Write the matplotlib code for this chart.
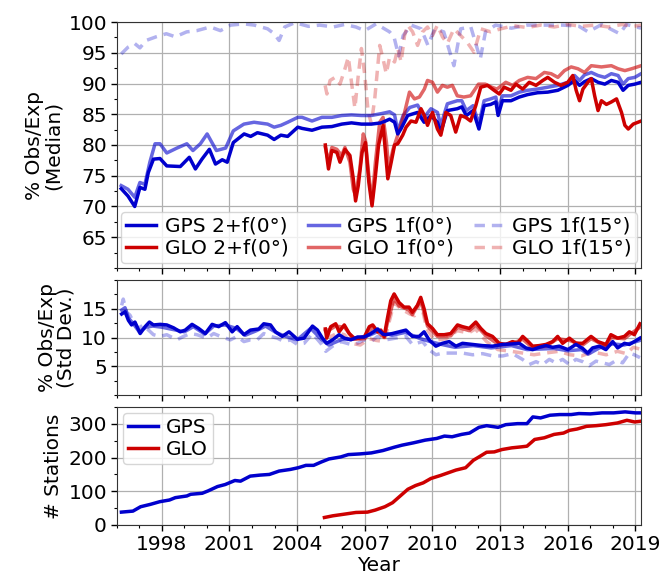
import matplotlib
matplotlib.use("Agg")
import matplotlib.pyplot as plt
from matplotlib.ticker import MultipleLocator
from matplotlib.lines import Line2D

# ---------------- data: median % obs/exp ----------------
gps_2f_t = [1996.2, 1996.5, 1996.8, 1997.03, 1997.25, 1997.4, 1997.63, 1997.92, 1998.22, 1998.82,
            1999.22, 1999.49, 1999.78, 2000.11, 2000.38, 2000.68, 2000.9, 2001.17, 2001.65, 2001.94,
            2002.24, 2002.69, 2002.98, 2003.28, 2003.58, 2004.03, 2004.22, 2004.66, 2005.1, 2005.54,
            2005.98, 2006.41, 2006.85, 2007.29, 2007.73, 2008.1, 2008.32, 2008.46, 2008.6, 2008.9,
            2009.34, 2009.63, 2009.93, 2010.22, 2010.37, 2010.66, 2011.1, 2011.3, 2011.5, 2011.8,
            2012.06, 2012.29, 2012.58, 2012.81, 2012.91, 2013.1, 2013.48, 2013.85, 2014.22, 2014.66,
            2015.11, 2015.56, 2016.0, 2016.3, 2016.52, 2016.74, 2017.04, 2017.34, 2017.64, 2017.93,
            2018.23, 2018.45, 2018.68, 2018.97, 2019.25]
gps_2f_v = [72.9, 71.7, 70.0, 73.1, 72.8, 75.5, 77.7, 77.8, 76.6, 76.5,
            78.0, 76.1, 77.7, 79.3, 76.9, 77.6, 77.2, 80.4, 81.8, 81.4,
            82.0, 81.6, 80.9, 81.6, 81.4, 82.9, 82.7, 82.4, 82.9, 83.0,
            83.4, 83.6, 83.4, 83.4, 83.6, 84.2, 83.7, 81.8, 82.6, 84.8,
            85.3, 83.7, 84.8, 83.7, 82.1, 85.6, 85.9, 86.2, 84.8, 85.6,
            82.6, 86.4, 86.6, 87.0, 84.8, 87.2, 87.2, 87.8, 88.2, 88.5,
            88.6, 88.9, 89.7, 90.5, 89.7, 90.3, 90.8, 90.2, 89.9, 90.5,
            90.2, 88.9, 89.7, 89.9, 90.2]

gps_1f_t = [1996.2, 1996.5, 1996.8, 1997.03, 1997.25, 1997.47, 1997.7, 1997.92, 1998.22, 1998.67,
            1999.11, 1999.38, 1999.71, 2000.01, 2000.42, 2000.83, 2001.17, 2001.64, 2002.09, 2002.69,
            2002.98, 2003.28, 2003.58, 2004.03, 2004.22, 2004.66, 2005.1, 2005.54, 2005.98, 2006.41,
            2006.85, 2007.29, 2007.73, 2008.1, 2008.32, 2008.46, 2008.7, 2008.99, 2009.34, 2009.63,
            2009.93, 2010.22, 2010.37, 2010.66, 2011.1, 2011.3, 2011.5, 2011.8, 2012.06, 2012.29,
            2012.58, 2012.81, 2012.91, 2013.1, 2013.48, 2013.85, 2014.22, 2014.66, 2015.11, 2015.56,
            2016.0, 2016.3, 2016.52, 2016.74, 2017.04, 2017.34, 2017.64, 2017.93, 2018.23, 2018.45,
            2018.68, 2018.97, 2019.25]
gps_1f_v = [73.4, 72.8, 71.5, 73.9, 73.6, 77.2, 80.2, 80.2, 78.7, 79.5,
            80.2, 79.1, 80.2, 81.8, 79.1, 79.5, 82.3, 83.4, 83.7, 83.4,
            82.9, 83.2, 83.7, 84.5, 84.5, 83.9, 84.5, 84.5, 84.8, 84.9,
            84.8, 84.8, 85.1, 85.4, 84.9, 82.3, 84.8, 86.1, 86.5, 84.5,
            85.9, 85.3, 83.2, 86.7, 87.2, 87.2, 85.6, 86.4, 83.4, 87.2,
            87.5, 87.8, 85.6, 88.0, 88.0, 88.6, 88.9, 89.1, 89.4, 89.7,
            90.2, 91.3, 90.5, 91.4, 91.8, 91.3, 91.0, 91.6, 91.3, 89.9,
            90.8, 91.0, 91.6]

gps_15_t = [1996.2, 1996.5, 1996.8, 1997.03, 1997.3, 1997.75, 1998.2, 1998.6, 1999.1, 1999.55,
            2000.15, 2000.6, 2001.05, 2001.64, 2002.1, 2002.69, 2002.98, 2003.2, 2003.45, 2003.9,
            2004.5, 2005.0, 2005.6, 2006.1, 2006.6, 2007.0, 2007.5, 2008.1, 2008.3, 2008.5,
            2008.7, 2009.05, 2009.5, 2009.8, 2010.1, 2010.5, 2010.95, 2011.25, 2011.7, 2012.12,
            2012.35, 2012.8, 2013.5, 2014.2, 2015.0, 2015.8, 2016.5, 2016.9, 2017.5, 2018.3,
            2018.6, 2019.25]
gps_15_v = [94.8, 95.9, 96.5, 95.8, 97.0, 97.6, 98.1, 97.6, 98.4, 98.6,
            99.2, 98.6, 99.5, 99.7, 99.5, 98.9, 98.1, 97.0, 99.2, 99.9,
            99.3, 99.5, 99.2, 99.6, 99.2, 98.6, 99.7, 98.4, 97.5, 94.5,
            97.8, 99.5, 98.9, 96.2, 98.9, 98.4, 92.9, 98.9, 99.2, 94.0,
            98.4, 99.5, 99.0, 99.5, 99.5, 99.5, 99.3, 98.4, 99.6, 98.1,
            99.6, 99.0]

glo_2f_t = [2005.25, 2005.39, 2005.54, 2005.76, 2005.9, 2006.12, 2006.34, 2006.49, 2006.59, 2006.71,
            2006.88, 2007.03, 2007.18, 2007.32, 2007.44, 2007.61, 2007.81, 2007.91, 2008.02, 2008.17,
            2008.32, 2008.46, 2008.68, 2008.83, 2009.05, 2009.27, 2009.49, 2009.64, 2009.78, 2010.0,
            2010.22, 2010.37, 2010.59, 2010.81, 2011.03, 2011.25, 2011.47, 2011.69, 2011.92, 2012.14,
            2012.44, 2012.73, 2012.96, 2013.18, 2013.48, 2013.7, 2014.0, 2014.29, 2014.59, 2014.89,
            2015.11, 2015.41, 2015.7, 2016.0, 2016.22, 2016.37, 2016.52, 2016.67, 2016.89, 2017.04,
            2017.19, 2017.34, 2017.49, 2017.71, 2017.93, 2018.16, 2018.38, 2018.53, 2018.68, 2018.9,
            2019.25]
glo_2f_v = [80.0, 76.1, 79.1, 78.8, 77.2, 79.3, 78.3, 74.5, 70.9, 73.4,
            78.8, 80.4, 73.9, 70.1, 73.9, 80.0, 83.2, 79.1, 74.5, 77.2,
            80.0, 80.2, 81.6, 82.9, 83.9, 83.7, 85.9, 84.8, 83.2, 85.3,
            82.6, 81.6, 85.3, 84.8, 82.1, 84.8, 84.5, 83.9, 86.4, 89.4,
            89.7, 88.9, 88.3, 89.4, 88.9, 89.9, 89.1, 90.2, 89.7, 90.5,
            91.0, 90.2, 89.7, 90.2, 91.3, 88.9, 87.2, 89.1, 90.2, 90.8,
            88.0, 85.6, 87.2, 86.6, 87.0, 87.5, 85.3, 83.2, 82.6, 83.4,
            83.9]

glo_1f_t = [2005.25, 2005.39, 2005.54, 2005.76, 2005.97, 2006.12, 2006.34, 2006.49, 2006.59, 2006.78,
            2006.93, 2007.03, 2007.18, 2007.32, 2007.47, 2007.66, 2007.81, 2007.96, 2008.06, 2008.25,
            2008.46, 2008.75, 2008.98, 2009.2, 2009.42, 2009.64, 2009.78, 2010.0, 2010.22, 2010.44,
            2010.66, 2010.88, 2011.1, 2011.39, 2011.69, 2012.04, 2012.34, 2012.63, 2012.86, 2013.25,
            2013.55, 2013.85, 2014.22, 2014.59, 2014.96, 2015.26, 2015.56, 2015.85, 2016.15, 2016.45,
            2016.74, 2017.04, 2017.49, 2017.93, 2018.23, 2018.53, 2018.83, 2019.25]
glo_1f_v = [79.6, 77.2, 79.6, 79.3, 78.3, 79.6, 77.2, 72.8, 71.7, 76.1,
            81.8, 80.7, 75.0, 70.7, 77.2, 83.7, 84.5, 80.4, 76.1, 79.3,
            81.6, 85.1, 88.6, 87.5, 87.8, 89.1, 90.5, 90.2, 88.6, 89.7,
            89.4, 89.7, 88.0, 87.8, 88.0, 89.9, 89.9, 89.4, 89.1, 90.2,
            89.7, 90.5, 91.0, 90.8, 91.8, 91.6, 91.0, 92.1, 92.7, 92.4,
            91.8, 92.9, 92.7, 92.9, 92.4, 92.1, 92.4, 92.9]

glo_15_t = [2005.24, 2005.32, 2005.46, 2005.68, 2005.9, 2006.12, 2006.27, 2006.41, 2006.56, 2006.71,
            2006.85, 2007.0, 2007.15, 2007.29, 2007.44, 2007.66, 2007.81, 2007.95, 2008.1, 2008.32,
            2008.46, 2008.61, 2008.76, 2008.9, 2009.12, 2009.34, 2009.56, 2009.78, 2010.0, 2010.22,
            2010.44, 2010.66, 2010.95, 2011.25, 2011.54, 2011.84, 2012.14, 2012.58, 2013.03, 2013.6,
            2014.2, 2014.8, 2015.4, 2016.0, 2016.6, 2017.2, 2017.8, 2018.4, 2018.9, 2019.25]
glo_15_v = [89.7, 88.3, 90.5, 91.0, 89.9, 92.4, 94.3, 90.2, 86.0, 91.3,
            95.7, 91.3, 85.3, 83.5, 87.5, 96.2, 94.0, 91.6, 94.3, 93.5,
            95.7, 93.5, 97.8, 99.5, 98.4, 96.2, 98.4, 99.2, 97.8, 99.5,
            97.6, 96.5, 98.9, 97.8, 96.7, 95.1, 98.9, 98.4, 98.9, 99.4,
            99.1, 99.5, 99.2, 99.6, 99.3, 99.5, 99.2, 99.6, 99.3, 99.5]

# ---------------- data: std dev % obs/exp ----------------
gps_2f_sd_t = [1996.22, 1996.37, 1996.52, 1996.66, 1996.81, 1997.04, 1997.26, 1997.45, 1997.63, 1997.93,
               1998.22, 1998.52, 1998.82, 1999.04, 1999.34, 1999.63, 1999.93, 2000.23, 2000.52, 2000.82,
               2001.12, 2001.34, 2001.64, 2001.93, 2002.3, 2002.52, 2002.82, 2003.04, 2003.34, 2003.64,
               2004.01, 2004.31, 2004.68, 2004.9, 2005.12, 2005.31, 2005.57, 2005.86, 2006.09, 2006.38,
               2006.68, 2006.98, 2007.27, 2007.57, 2007.8, 2007.93, 2008.22, 2008.52, 2008.82, 2009.11,
               2009.41, 2009.63, 2009.85, 2010.15, 2010.44, 2010.74, 2011.04, 2011.33, 2011.78, 2012.22,
               2012.66, 2013.11, 2013.55, 2013.85, 2014.14, 2014.44, 2014.73, 2015.03, 2015.33, 2015.62,
               2016.0, 2016.36, 2016.66, 2016.88, 2017.1, 2017.4, 2017.69, 2017.99, 2018.21, 2018.51,
               2018.73, 2018.95, 2019.2]
gps_2f_sd_v = [14.1, 14.5, 13.0, 12.2, 12.7, 10.7, 11.9, 12.7, 12.2, 12.3,
               12.2, 11.7, 11.0, 11.3, 12.3, 11.6, 10.7, 12.3, 11.9, 12.6,
               11.0, 11.9, 10.5, 11.3, 11.5, 12.4, 12.2, 11.0, 10.2, 11.0,
               9.7, 9.9, 12.0, 11.3, 9.9, 9.0, 9.6, 10.5, 9.9, 9.6,
               10.1, 10.1, 10.7, 11.5, 10.6, 10.5, 10.7, 11.0, 11.3, 10.2,
               10.2, 11.0, 9.6, 8.5, 9.0, 9.3, 8.5, 9.0, 8.8, 8.6,
               8.5, 8.8, 8.9, 9.0, 8.2, 7.9, 8.3, 8.6, 8.3, 8.5,
               7.9, 8.8, 8.1, 7.3, 8.2, 8.5, 7.9, 9.3, 8.2, 9.0,
               8.8, 9.3, 9.9]

gps_1f_sd_t = [1996.22, 1996.37, 1996.52, 1996.7, 1997.0, 1997.3, 1997.6, 1998.0, 1998.5, 1999.0,
               1999.4, 1999.9, 2000.3, 2000.8, 2001.3, 2001.7, 2002.2, 2002.6, 2003.1, 2003.5,
               2004.0, 2004.6, 2005.1, 2005.4, 2006.0, 2006.6, 2007.2, 2007.6, 2008.2, 2008.8,
               2009.4, 2009.9, 2010.4, 2011.0, 2011.8, 2012.6, 2013.5, 2014.2, 2014.8, 2015.4,
               2016.0, 2016.6, 2016.9, 2017.4, 2018.0, 2018.5, 2019.2]
gps_1f_sd_v = [14.8, 15.2, 13.4, 12.6, 11.0, 11.8, 12.0, 11.8, 11.4, 11.0,
               11.9, 10.6, 12.0, 12.2, 11.6, 10.4, 11.2, 12.0, 10.8, 10.2,
               9.6, 11.6, 9.6, 8.7, 9.7, 9.8, 10.4, 11.1, 10.4, 10.9,
               9.9, 9.3, 8.8, 8.3, 8.6, 8.2, 8.6, 7.9, 8.0, 8.1,
               7.7, 7.9, 7.1, 8.2, 8.9, 8.7, 9.5]

gps_15_sd_t = [1996.22, 1996.29, 1996.44, 1996.59, 1996.74, 1996.96, 1997.18, 1997.41, 1997.63, 1997.93,
               1998.22, 1998.67, 1998.96, 1999.26, 1999.56, 2000.0, 2000.3, 2000.6, 2001.04, 2001.34,
               2001.64, 2001.93, 2002.23, 2002.52, 2002.82, 2003.12, 2003.42, 2003.71, 2004.01, 2004.31,
               2004.68, 2005.05, 2005.27, 2005.57, 2005.94, 2006.38, 2006.68, 2006.98, 2007.27, 2007.57,
               2007.93, 2008.37, 2008.82, 2009.11, 2009.56, 2009.85, 2010.15, 2010.44, 2010.89, 2011.33,
               2011.78, 2012.22, 2012.66, 2013.11, 2013.55, 2013.99, 2014.29, 2014.59, 2014.88, 2015.18,
               2015.47, 2015.77, 2016.07, 2016.36, 2016.66, 2016.95, 2017.25, 2017.54, 2017.84, 2018.14,
               2018.43, 2018.73, 2018.95, 2019.2]
gps_15_sd_v = [15.6, 16.7, 14.4, 13.9, 12.7, 11.6, 12.2, 11.3, 10.5, 10.2,
               10.5, 9.6, 10.2, 10.7, 10.5, 9.9, 10.7, 10.2, 9.6, 10.2,
               9.3, 9.6, 9.6, 10.7, 10.2, 9.9, 9.3, 9.6, 8.8, 9.0,
               10.7, 9.0, 7.6, 8.5, 9.3, 8.8, 9.0, 9.6, 9.3, 10.2,
               9.6, 9.9, 10.2, 8.8, 9.3, 7.9, 7.0, 7.3, 7.3, 7.3,
               7.0, 7.2, 6.8, 6.8, 7.2, 6.2, 5.3, 5.8, 5.3, 6.2,
               5.6, 6.2, 5.3, 6.2, 5.8, 5.1, 5.9, 5.6, 5.3, 6.0,
               5.6, 7.3, 7.0, 6.5]

glo_2f_sd_t = [2005.25, 2005.31, 2005.49, 2005.71, 2005.86, 2006.09, 2006.31, 2006.53, 2006.75, 2006.98,
               2007.2, 2007.35, 2007.57, 2007.71, 2007.86, 2008.0, 2008.15, 2008.3, 2008.52, 2008.74,
               2008.96, 2009.11, 2009.33, 2009.48, 2009.63, 2009.78, 2010.0, 2010.22, 2010.52, 2010.81,
               2011.11, 2011.33, 2011.63, 2011.92, 2012.14, 2012.37, 2012.66, 2012.96, 2013.25, 2013.55,
               2013.77, 2014.0, 2014.22, 2014.44, 2014.73, 2015.03, 2015.33, 2015.55, 2015.77, 2016.07,
               2016.36, 2016.66, 2017.03, 2017.33, 2017.69, 2017.91, 2018.21, 2018.51, 2018.73, 2018.95,
               2019.2]
glo_2f_sd_v = [11.5, 9.9, 11.9, 12.4, 11.0, 12.2, 10.7, 9.9, 9.9, 10.1,
               11.9, 12.2, 11.0, 11.3, 10.2, 13.3, 16.4, 17.6, 16.1, 15.3,
               15.3, 14.4, 15.6, 17.0, 15.0, 12.4, 11.6, 10.5, 10.5, 10.7,
               12.2, 11.9, 11.6, 12.7, 11.6, 10.7, 10.2, 9.0, 8.8, 9.3,
               9.0, 10.2, 9.4, 8.5, 8.6, 8.8, 9.3, 10.2, 9.0, 9.9,
               9.0, 9.0, 10.2, 9.3, 8.8, 10.5, 9.9, 10.2, 11.0, 10.5,
               12.4]

glo_1f_sd_t = [2005.25, 2005.5, 2005.7, 2006.1, 2006.5, 2007.0, 2007.35, 2007.86, 2008.0, 2008.3,
               2008.52, 2008.96, 2009.11, 2009.48, 2009.78, 2010.22, 2010.81, 2011.11, 2011.63, 2011.92,
               2012.37, 2012.96, 2013.55, 2014.0, 2014.44, 2015.03, 2015.55, 2016.07, 2016.66, 2017.03,
               2017.69, 2017.91, 2018.51, 2018.73, 2019.2]
glo_1f_sd_v = [11.2, 11.5, 12.0, 11.8, 9.7, 9.8, 11.8, 10.0, 12.5, 16.8,
               15.5, 14.8, 14.0, 16.5, 12.0, 10.2, 10.3, 11.8, 11.2, 12.2,
               10.3, 8.7, 9.0, 9.7, 8.2, 8.5, 9.8, 9.5, 8.7, 9.8,
               8.5, 10.0, 9.8, 10.5, 11.8]

glo_15_sd_t = [2005.25, 2005.5, 2005.8, 2006.1, 2006.4, 2006.8, 2007.2, 2007.5, 2007.86, 2008.0,
               2008.3, 2008.6, 2009.0, 2009.2, 2009.48, 2009.75, 2010.1, 2010.6, 2011.1, 2011.6,
               2011.9, 2012.4, 2012.9, 2013.5, 2014.0, 2014.5, 2015.0, 2015.6, 2016.1, 2016.6,
               2017.1, 2017.7, 2018.2, 2018.6, 2018.9, 2019.2]
glo_15_sd_v = [10.5, 10.2, 10.8, 10.5, 9.0, 8.7, 9.8, 9.5, 9.3, 11.5,
               16.1, 15.0, 14.1, 13.8, 16.1, 11.5, 9.5, 9.8, 11.2, 10.8,
               11.5, 9.3, 7.9, 7.6, 7.3, 7.0, 7.3, 7.6, 7.0, 6.8,
               7.5, 7.0, 7.6, 7.2, 8.3, 8.0]

# ---------------- data: number of stations ----------------
gps_n_t = [1996.21, 1996.72, 1997.06, 1997.49, 1997.91, 1998.34, 1998.6, 1999.11, 1999.28, 1999.79,
           2000.05, 2000.47, 2000.81, 2001.24, 2001.49, 2001.92, 2002.35, 2002.77, 2003.2, 2003.71,
           2004.05, 2004.39, 2004.73, 2005.07, 2005.41, 2005.93, 2006.27, 2006.78, 2007.29, 2007.8,
           2008.31, 2008.65, 2009.16, 2009.68, 2010.19, 2010.53, 2010.87, 2011.29, 2011.64, 2012.06,
           2012.4, 2012.91, 2013.25, 2013.77, 2014.19, 2014.45, 2014.79, 2015.21, 2015.64, 2016.15,
           2016.49, 2017.0, 2017.52, 2018.03, 2018.54, 2019.0, 2019.22]
gps_n_v = [38, 41, 54, 61, 69, 74, 81, 86, 91, 94,
           101, 114, 120, 132, 130, 145, 148, 150, 160, 165,
           170, 177, 177, 187, 196, 202, 209, 211, 214, 221,
           231, 237, 244, 252, 257, 264, 262, 269, 273, 290,
           295, 290, 298, 301, 301, 321, 318, 326, 328, 328,
           331, 330, 333, 333, 336, 333, 333]

glo_n_t = [2005.21, 2005.58, 2006.1, 2006.61, 2007.12, 2007.46, 2007.89, 2008.23, 2008.57, 2008.91,
           2009.25, 2009.59, 2009.93, 2010.36, 2010.7, 2011.04, 2011.47, 2011.81, 2012.06, 2012.4,
           2012.74, 2013.08, 2013.51, 2013.94, 2014.19, 2014.53, 2014.96, 2015.39, 2015.81, 2016.07,
           2016.41, 2016.83, 2017.26, 2017.69, 2018.2, 2018.62, 2018.96, 2019.22]
glo_n_v = [22, 27, 32, 37, 38, 44, 54, 66, 86, 106,
           117, 125, 138, 147, 155, 163, 170, 192, 202, 216,
           217, 224, 229, 232, 234, 254, 259, 269, 273, 281,
           285, 293, 295, 298, 303, 311, 306, 308]

xtick_years = [1998, 2001, 2004, 2007, 2010, 2013, 2016, 2019]

# ---------------- style ----------------
BLUE = "#0000cd"
RED = "#cd0000"
FS = 14.5
plt.rcParams["font.family"] = ["DejaVu Sans"]
plt.rcParams["font.size"] = FS

fig = plt.figure(figsize=(6.63, 5.80), dpi=100)
L, W = 0.176, 0.791
ax1 = fig.add_axes([L, 0.538, W, 0.424])
ax2 = fig.add_axes([L, 0.319, W, 0.198], sharex=ax1)
ax3 = fig.add_axes([L, 0.095, W, 0.203], sharex=ax1)

lw = 2.5
dash = (3.0, 2.0)

# top panel
ax1.plot(gps_15_t, gps_15_v, color=BLUE, alpha=0.3, lw=lw, dashes=dash)
ax1.plot(glo_15_t, glo_15_v, color=RED, alpha=0.3, lw=lw, dashes=dash)
ax1.plot(gps_1f_t, gps_1f_v, color=BLUE, alpha=0.6, lw=lw)
ax1.plot(glo_1f_t, glo_1f_v, color=RED, alpha=0.6, lw=lw)
ax1.plot(gps_2f_t, gps_2f_v, color=BLUE, lw=lw)
ax1.plot(glo_2f_t, glo_2f_v, color=RED, lw=lw)

# middle panel
ax2.plot(gps_15_sd_t, gps_15_sd_v, color=BLUE, alpha=0.3, lw=lw, dashes=dash)
ax2.plot(glo_15_sd_t, glo_15_sd_v, color=RED, alpha=0.3, lw=lw, dashes=dash)
ax2.plot(gps_1f_sd_t, gps_1f_sd_v, color=BLUE, alpha=0.6, lw=lw)
ax2.plot(glo_1f_sd_t, glo_1f_sd_v, color=RED, alpha=0.6, lw=lw)
ax2.plot(glo_2f_sd_t, glo_2f_sd_v, color=RED, lw=lw)
ax2.plot(gps_2f_sd_t, gps_2f_sd_v, color=BLUE, lw=lw)

# bottom panel
ax3.plot(gps_n_t, gps_n_v, color=BLUE, lw=lw, label="GPS")
ax3.plot(glo_n_t, glo_n_v, color=RED, lw=lw, label="GLO")

handles = [
    Line2D([], [], color=BLUE, lw=lw),
    Line2D([], [], color=RED, lw=lw),
    Line2D([], [], color=BLUE, alpha=0.6, lw=lw),
    Line2D([], [], color=RED, alpha=0.6, lw=lw),
    Line2D([], [], color=BLUE, alpha=0.3, lw=lw, dashes=dash),
    Line2D([], [], color=RED, alpha=0.3, lw=lw, dashes=dash),
]
labels = ["GPS 2+f(0°)", "GLO 2+f(0°)", "GPS 1f(0°)", "GLO 1f(0°)", "GPS 1f(15°)", "GLO 1f(15°)"]
ax1.legend(handles, labels, ncol=3, loc="lower center", fontsize=FS,
           handlelength=1.5, handletextpad=0.4, columnspacing=1.0,
           borderpad=0.25, labelspacing=0.15, borderaxespad=0.25)
ax3.legend(loc="upper left", fontsize=FS, handlelength=1.5, handletextpad=0.4,
           borderpad=0.25, labelspacing=0.15, borderaxespad=0.3)

ax1.set_ylim(60, 100)
ax1.set_yticks([65, 70, 75, 80, 85, 90, 95, 100])
ax1.yaxis.set_minor_locator(MultipleLocator(2.5))
ax2.set_ylim(0, 20)
ax2.set_yticks([5, 10, 15])
ax2.yaxis.set_minor_locator(MultipleLocator(2.5))
ax3.set_ylim(0, 350)
ax3.set_yticks([0, 100, 200, 300])
ax3.yaxis.set_minor_locator(MultipleLocator(50))

ax1.set_xlim(1996.0, 2019.25)
ax3.set_xticks(xtick_years)
ax3.set_xticklabels([str(y) for y in xtick_years])
ax3.xaxis.set_minor_locator(MultipleLocator(1))

for ax in (ax1, ax2, ax3):
    ax.grid(True, which="major", color="#b0b0b0", lw=0.9)
    ax.tick_params(which="major", length=4, width=1, labelsize=FS, pad=3)
    ax.tick_params(which="minor", length=2.5, width=0.8)
    for s in ax.spines.values():
        s.set_color("#333333")
for ax in (ax1, ax2):
    ax.tick_params(labelbottom=False)

ax1.set_ylabel("% Obs/Exp\n(Median)", fontsize=FS, linespacing=1.0, labelpad=4)
ax2.set_ylabel("% Obs/Exp\n(Std Dev.)", fontsize=FS, linespacing=1.0, labelpad=4)
ax3.set_ylabel("# Stations", fontsize=FS)
ax3.set_xlabel("Year", fontsize=FS, labelpad=2)

fig.savefig("out.png", dpi=100)
